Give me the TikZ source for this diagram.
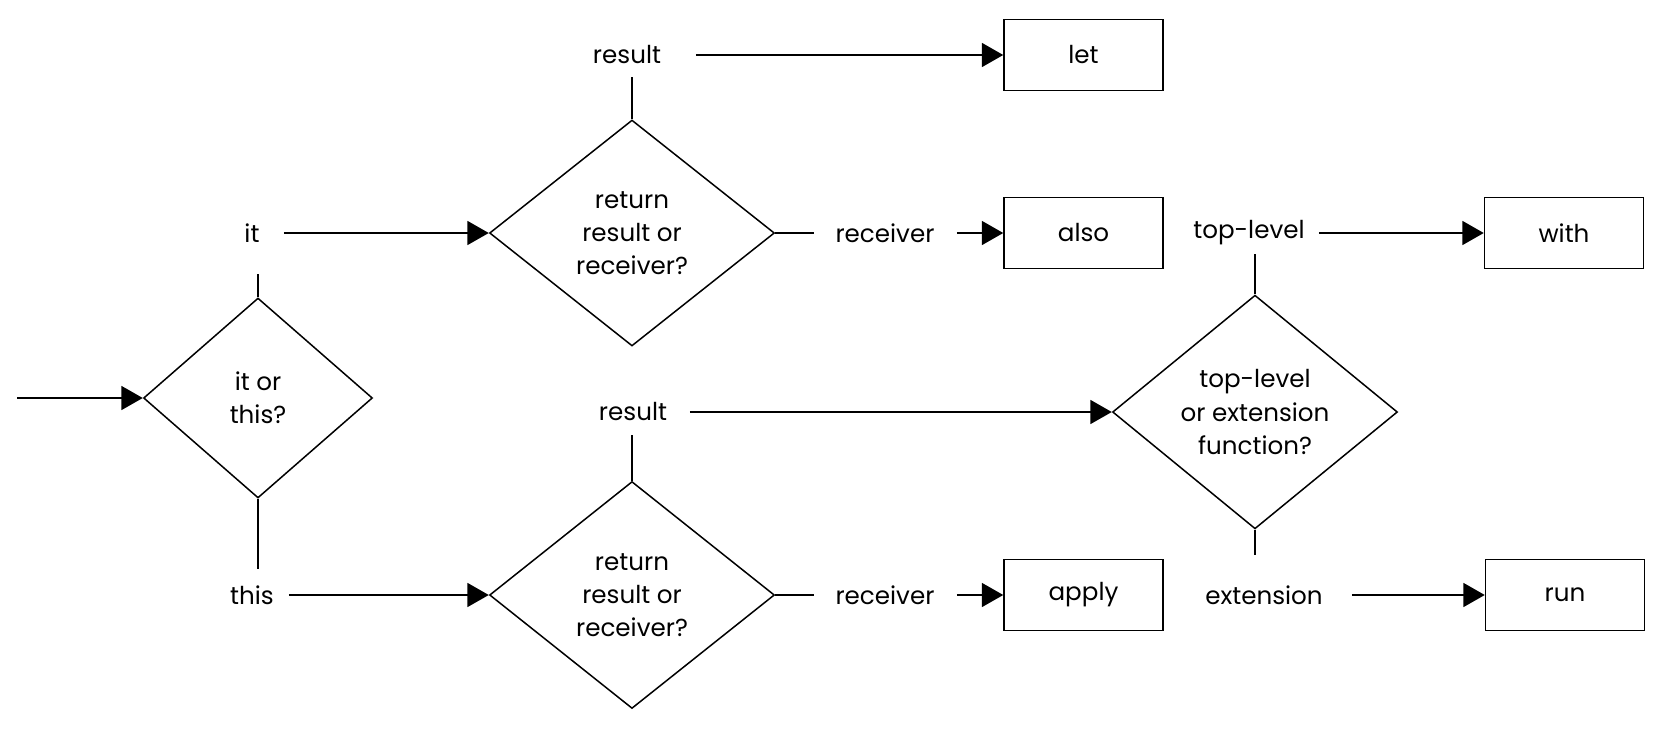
\documentclass[tikz,border=0pt]{standalone}
\usepackage{fontspec}
\setmainfont{Poppins}
\usetikzlibrary{shapes.geometric,arrows.meta}
\begin{document}
\begin{tikzpicture}[x=0.02cm,y=-0.02cm,
  every node/.style={font=\fontsize{14pt}{18.9pt}\selectfont},
  line/.style={line width=0.38mm},
  arr/.style={line width=0.38mm,-{Triangle[length=4.3mm,width=4.8mm]}},
  dec/.style={draw,line width=0.3mm,diamond,inner sep=0pt,align=center},
  box/.style={draw,line width=0.3mm,rectangle,minimum width=3.18cm,minimum height=1.42cm,inner sep=0pt},
  lbl/.style={inner sep=0pt}]
\useasboundingbox (0,0) rectangle (1661,731);
% decisions
\node[dec,minimum width=4.58cm,minimum height=4.0cm] (d1) at (258,398) {it or\\this?};
\node[dec,minimum width=5.7cm,minimum height=4.52cm] (d2) at (632,233) {return\\result or\\receiver?};
\node[dec,minimum width=5.7cm,minimum height=4.5cm] (d3) at (1255,412) {top-level\\or extension\\function?};
\node[dec,minimum width=5.7cm,minimum height=4.54cm] (d4) at (632,595) {return\\result or\\receiver?};
% results
\node[box] (let) at (1083.5,55) {let};
\node[box] (also) at (1083.5,233) {also};
\node[box] (with) at (1564,233) {with};
\node[box] (apply) at (1083.5,595) {apply};
\node[box] (run) at (1565,595) {run};
% labels
\node[lbl] (resT) at (627,55) {result};
\node[lbl] (itL) at (252,233) {it};
\node[lbl] (thisL) at (252,595) {this};
\node[lbl] (resM) at (633,412) {result};
\node[lbl] (recT) at (885,233) {receiver};
\node[lbl] (recB) at (885,595) {receiver};
\node[lbl] (topL) at (1249,233) {top-level};
\node[lbl] (extL) at (1264,595) {extension};
\coordinate (start) at (17,398);
% connectors
\draw[arr] (start) -- (d1.west);
\draw[line,shorten >=8.2mm] (d1.north) -- (d1.north |- itL.center);
\draw[arr,shorten <=6.4mm] (itL.center) -- (d2.west);
\draw[line,shorten >=5.2mm] (d1.south) -- (d1.south |- thisL.center);
\draw[arr,shorten <=7.4mm] (thisL.center) -- (d4.west);
\draw[line,shorten >=4.4mm] (d2.north) -- (d2.north |- resT.center);
\draw[arr,shorten <=13.8mm] (resT.center) -- (let.west);
\draw[line,shorten >=14.2mm] (d2.east) -- (d2.east -| recT.center);
\draw[arr,shorten <=14.4mm] (recT.center) -- (also.west);
\draw[line,shorten >=4.6mm] (d4.north) -- (d4.north |- resM.center);
\draw[arr,shorten <=11.4mm] (resM.center) -- (d3.west);
\draw[line,shorten >=14.2mm] (d4.east) -- (d4.east -| recB.center);
\draw[arr,shorten <=14.4mm] (recB.center) -- (apply.west);
\draw[line,shorten >=4.2mm] (d3.north) -- (d3.north |- topL.center);
\draw[arr,shorten <=14mm] (topL.center) -- (with.west);
\draw[line,shorten >=8mm] (d3.south) -- (d3.south |- extL.center);
\draw[arr,shorten <=17.6mm] (extL.center) -- (run.west);
\end{tikzpicture}
\end{document}
